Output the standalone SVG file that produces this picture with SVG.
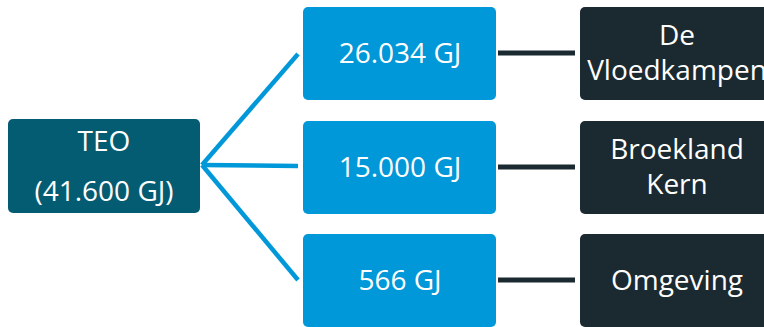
<svg xmlns="http://www.w3.org/2000/svg" width="764" height="327" viewBox="0 0 764 327">
<style>
.t{font-family:"Open Sans","Noto Sans","DejaVu Sans",sans-serif;font-size:28px;fill:#fff;text-anchor:middle}
.teo{fill:#045c73}
.amt{fill:#0098d8}
.dst{fill:#1b2a30}
.bl{stroke:#0098d8;stroke-width:4.5;fill:none}
.dk{stroke:#1b2a30;stroke-width:5;fill:none}
</style>
<rect width="764" height="327" fill="#fff"/>
<g id="connectors">
<line class="bl" x1="202" y1="165" x2="298" y2="54"/>
<line class="bl" x1="202" y1="165" x2="298" y2="166"/>
<line class="bl" x1="202" y1="165" x2="298" y2="280"/>
<line class="dk" x1="498" y1="53" x2="575" y2="53"/>
<line class="dk" x1="498" y1="167" x2="575" y2="167"/>
<line class="dk" x1="498" y1="280" x2="575" y2="280"/>
</g>
<g id="teo">
<rect class="teo" x="8" y="119" width="192" height="94" rx="5"/>
<text class="t" x="104" y="151">TEO</text>
<text class="t" x="104" y="201">(41.600 GJ)</text>
</g>
<g id="a1">
<rect class="amt" x="303" y="7" width="193" height="93" rx="5"/>
<text class="t" x="400" y="63">26.034 GJ</text>
</g>
<g id="a2">
<rect class="amt" x="303" y="121" width="193" height="93" rx="5"/>
<text class="t" x="400" y="177">15.000 GJ</text>
</g>
<g id="a3">
<rect class="amt" x="303" y="234" width="193" height="93" rx="5"/>
<text class="t" x="400" y="290">566 GJ</text>
</g>
<g id="d1">
<rect class="dst" x="580" y="7" width="194" height="93" rx="5"/>
<text class="t" x="677" y="45">De</text>
<text class="t" x="677" y="80">Vloedkampen</text>
</g>
<g id="d2">
<rect class="dst" x="580" y="121" width="194" height="93" rx="5"/>
<text class="t" x="677" y="159">Broekland</text>
<text class="t" x="677" y="194">Kern</text>
</g>
<g id="d3">
<rect class="dst" x="580" y="234" width="194" height="93" rx="5"/>
<text class="t" x="677" y="290">Omgeving</text>
</g>
</svg>
